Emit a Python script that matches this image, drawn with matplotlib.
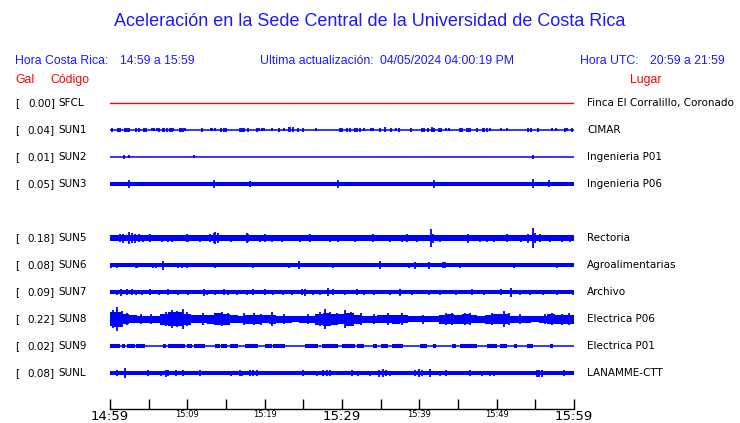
import matplotlib
matplotlib.use("Agg")
import matplotlib.pyplot as plt
import numpy as np

# stations, peak acceleration (gal) and place
stations = ["SFCL", "SUN1", "SUN2", "SUN3", "SUN5", "SUN6", "SUN7", "SUN8", "SUN9", "SUNL"]
peaks = [0.00, 0.04, 0.01, 0.05, 0.18, 0.08, 0.09, 0.22, 0.02, 0.08]
places = ["Finca El Corralillo, Coronado", "CIMAR", "Ingenieria P01", "Ingenieria P06",
          "Rectoria", "Agroalimentarias", "Archivo", "Electrica P06", "Electrica P01",
          "LANAMME-CTT"]

# x axis: minutes after 14:59
tick_min = list(range(0, 61, 5))
tick_lbl = ["14:59", "", "15:09", "", "15:19", "", "15:29", "", "15:39", "", "15:49", "", "15:59"]

# half-width of the quiet band of each trace (screen px)
base_half = [0.0, 0.6, 0.6, 2.2, 2.8, 1.8, 1.7, 0.0, 0.6, 1.8]

# spikes: (minute, half amplitude)
sun1 = [(0.2, 2), (1.0, 2), (1.3, 2), (1.9, 2), (2.1, 2), (2.3, 2), (2.5, 2), (3.3, 2), (3.7, 2),
        (4.4, 2), (4.6, 2), (5.4, 1.5), (5.7, 1.5), (6.1, 1.5), (6.3, 2), (6.8, 2), (7.0, 2),
        (7.4, 2), (7.7, 2), (8.0, 2), (8.2, 1.5), (9.0, 2), (9.2, 2), (9.4, 2), (9.7, 1.5),
        (11.9, 2), (13.0, 1.5), (13.2, 1.5), (13.6, 1.5), (14.4, 2), (14.8, 2), (15.0, 2),
        (16.8, 2), (17.1, 2), (17.3, 2), (17.8, 2), (19.0, 2), (19.3, 1.5), (19.6, 1.5),
        (19.9, 1.5), (20.9, 1.5), (21.9, 2), (22.5, 1.5), (23.1, 2.5), (23.3, 2.5), (23.6, 2.5),
        (24.3, 2), (25.0, 2), (26.7, 1.5), (29.8, 2), (30.0, 2), (30.7, 2), (31.0, 2), (31.7, 2),
        (32.0, 2), (32.3, 2), (32.8, 1.5), (33.7, 1.5), (34.0, 1.5), (34.9, 2), (35.6, 2.5),
        (36.3, 2), (37.0, 1.5), (37.4, 2), (38.9, 2), (40.3, 2), (40.6, 2), (41.1, 2), (41.6, 2.5),
        (41.9, 2), (42.5, 2), (42.8, 2), (43.4, 1.5), (43.9, 1.5), (45.2, 2), (45.5, 2), (46.2, 2),
        (46.4, 2), (46.6, 2), (47.4, 2), (48.2, 2), (48.4, 2), (48.8, 2), (49.1, 1.5), (50.5, 1.5),
        (51.3, 1.5), (54.0, 2), (54.4, 2), (55.3, 2), (57.1, 1.5), (57.7, 1.5), (58.8, 2),
        (59.1, 1.5), (59.8, 2)]
sun2 = [(1.85, 2), (2.46, 1.5), (10.9, 1.5), (54.7, 2)]
sun3 = [(2.46, 4), (13.5, 4), (18.1, 3), (29.5, 4), (41.9, 4), (54.7, 4.5), (56.8, 3.5)]
sun5 = [(1.3, 4), (1.7, 4.5), (2.4, 6.3), (2.8, 5), (3.2, 4.5), (3.7, 4), (4.3, 3.5), (5.2, 4),
        (6.7, 3.5), (7.5, 3.5), (8.0, 3.5), (9.9, 4), (10.1, 3.5), (11.6, 3.5), (12.9, 4),
        (13.4, 5), (13.6, 6), (14.0, 5), (15.7, 3.5), (17.7, 5), (17.9, 4), (19.4, 3.5), (20.0, 4),
        (20.9, 3.5), (22.2, 3.5), (24.6, 3.5), (25.9, 4), (27.4, 3), (28.4, 3.5), (29.5, 3.5),
        (31.7, 3.5), (34.0, 4), (35.3, 3), (36.2, 3.5), (37.7, 3.5), (38.4, 4), (39.7, 3.5),
        (41.5, 8.7), (41.8, 4.5), (42.7, 3.5), (43.7, 3), (46.3, 4.5), (47.8, 3.5), (48.7, 3.5),
        (49.6, 3.5), (51.3, 4), (53.2, 3.5), (54.1, 4.5), (54.7, 10), (55.0, 5), (55.6, 4),
        (56.9, 3.5), (58.4, 3.5), (59.5, 3.5)]
sun6 = [(0.1, 2.5), (0.9, 2.5), (3.4, 2.5), (3.5, 2.5), (5.6, 2.5), (6.0, 2.5), (6.9, 4.5),
        (8.8, 2.5), (9.3, 2.5), (9.9, 2.5), (13.6, 2.5), (18.5, 2.5), (23.1, 2.5), (24.4, 4),
        (28.9, 2.5), (34.9, 4), (38.6, 2.5), (39.4, 3.5), (41.2, 3.5), (43.1, 3), (43.3, 3),
        (45.3, 2.5), (49.4, 2), (52.2, 2.5), (57.8, 2.5)]
sun7 = [(0.9, 2.5), (1.4, 3.5), (2.2, 3), (2.8, 3), (3.4, 2.5), (4.1, 2.5), (5.2, 3), (6.3, 2.5),
        (7.5, 3), (8.8, 2.5), (10.1, 2.5), (12.1, 3.5), (12.5, 2.5), (13.6, 2.5), (14.7, 3),
        (15.3, 2.5), (16.4, 2.5), (17.7, 2.5), (18.5, 3), (20.0, 3), (21.1, 2.5), (22.4, 2.5),
        (23.5, 2.5), (24.8, 3), (25.2, 3.5), (26.3, 2.5), (27.2, 2.5), (28.2, 4), (28.9, 3),
        (30.4, 2.5), (31.9, 3), (32.8, 2.5), (34.1, 2.5), (36.2, 2.5), (37.5, 3.5), (39.0, 2.5),
        (41.2, 2.5), (42.7, 2.5), (44.8, 2.5), (46.8, 3), (48.3, 2.5), (50.6, 3), (51.8, 4.5),
        (53.0, 2.5), (54.3, 2.5), (56.0, 2.5), (57.8, 2.5), (59.9, 2.5)]
sun8 = [(0.4, 9), (0.95, 12), (1.5, 8), (2.2, 6), (4.0, 5), (5.3, 5), (7.3, 7), (8.0, 9),
        (8.6, 8), (9.4, 10), (10.0, 7), (12.0, 6), (13.8, 6), (14.5, 7), (15.2, 6), (17.3, 6),
        (18.6, 6), (19.5, 5.5), (20.9, 7), (22.5, 5), (25.6, 5), (27.2, 7), (27.8, 10), (28.5, 7),
        (29.3, 6), (30.4, 9), (31.1, 7), (32.4, 6), (34.2, 5), (36.0, 6), (37.7, 6), (40.5, 4.5),
        (43.5, 6), (44.2, 6), (45.9, 6), (46.5, 6), (49.4, 6), (50.9, 8), (51.6, 6), (53.0, 5),
        (56.3, 5), (57.1, 6), (58.4, 5.5), (59.3, 6)]
sun9 = []
sunl = [(0.9, 3), (2.0, 5), (4.9, 3), (6.6, 2.5), (7.3, 3.5), (7.5, 3), (8.5, 3), (9.4, 3),
        (11.6, 3), (15.6, 2.5), (16.8, 3), (17.1, 2.5), (18.1, 3), (18.5, 3), (19.0, 3), (25.0, 3),
        (26.8, 2.5), (27.6, 3), (28.0, 3), (28.4, 3), (31.3, 3), (32.1, 2.5), (33.6, 2.5),
        (34.8, 3.5), (35.3, 4), (35.7, 3), (36.2, 2.5), (39.4, 3), (40.0, 4), (40.4, 3), (41.4, 4),
        (42.7, 2.5), (43.4, 3), (46.5, 3), (48.1, 2.5), (49.1, 2.5), (49.7, 2.5), (51.6, 2),
        (55.2, 3.5), (55.5, 3.5), (55.8, 3.5), (58.7, 3)]
spikes = [[], sun1, sun2, sun3, sun5, sun6, sun7, sun8, sun9, sunl]

# SUN8 envelope, one value per minute (half amplitude)
sun8_env = [7, 7.5, 5, 4, 3.5, 3.5, 3.5, 5.5, 7, 7, 5.5, 4, 4, 4.5, 6, 5.5, 4, 3.5, 4.5, 4.5,
            4, 4.5, 3.5, 3.5, 3, 3.5, 3.5, 5.5, 6.5, 5.5, 5, 6.5, 4.5, 3.5, 3.5, 4, 4, 4.5, 4,
            3, 3, 3, 3, 4.5, 5, 4.5, 5, 4, 3.5, 4.5, 5, 5, 3.5, 3.5, 3.5, 3, 3.5, 5, 4.5, 4.5, 4.5]

# SUN9 noisy stretches (start, end minute)
sun9_blocks = [(0.0, 1.3), (1.5, 1.9), (2.2, 3.2), (3.4, 4.5), (6.9, 7.3), (7.5, 9.7),
               (9.9, 10.6), (10.8, 12.3), (13.6, 14.2), (14.4, 15.1), (15.5, 16.6), (17.5, 19.2),
               (20.0, 20.9), (21.1, 22.6), (25.2, 26.9), (27.4, 29.5), (30.0, 31.7), (31.9, 32.8),
               (34.0, 34.5), (35.1, 36.0), (36.5, 37.9), (40.1, 41.0), (41.8, 42.2), (44.2, 44.8),
               (45.3, 47.4), (48.7, 50.0), (50.4, 51.3), (52.2, 52.6), (53.9, 54.7), (56.9, 57.3)]

BLUE = "#0000ff"
TXT_BLUE = "#1a1aff"
RED = "#ff0000"

W, H = 740, 423
fig = plt.figure(figsize=(W / 100, H / 100), dpi=100)
ax = fig.add_axes([110 / W, 14 / H, 464 / W, 319 / H])
ax.set_xlim(0, 60)
ax.set_ylim(-409, -90)  # screen px, flipped

# rows: gap after SUN3
row_pos = [0, 1, 2, 3, 5, 6, 7, 8, 9, 10]
row_y = [-(103 + 27 * p) for p in row_pos]

for i, st in enumerate(stations):
    c = row_y[i]
    col = RED if st == "SFCL" else BLUE
    if st == "SUN8":
        t = np.arange(len(sun8_env))
        env = np.array(sun8_env)
        ax.fill_between(t, c - env, c + env, step="mid", color=col, lw=0)
    elif base_half[i] >= 1:
        ax.fill_between([0, 60], c - base_half[i], c + base_half[i], color=col, lw=0)
    else:
        ax.plot([0, 60], [c, c], color=col, lw=1.1 if st != "SFCL" else 1.0)
    if st == "SUN9":
        starts = [b[0] for b in sun9_blocks]
        widths = [b[1] - b[0] for b in sun9_blocks]
        ax.bar(starts, 3.4, width=widths, bottom=c - 1.7, align="edge", color=col, lw=0)
    if spikes[i]:
        ts = [s[0] for s in spikes[i]]
        amps = np.array([s[1] for s in spikes[i]])
        ax.vlines(ts, c - amps, c + amps, color=col, lw=1.3)

    yf = (H + c) / H
    fig.text(15 / W, yf, "[", fontsize=7.5, va="center", ha="left")
    fig.text(55 / W, yf, f"{peaks[i]:.2f}]", fontsize=7.5, va="center", ha="right")
    fig.text(58 / W, yf, st, fontsize=7.5, va="center", ha="left")
    fig.text(587 / W, yf, places[i], fontsize=7.5, va="center", ha="left")

# time axis
for s in ["left", "right", "top"]:
    ax.spines[s].set_visible(False)
ax.spines["bottom"].set_linewidth(1.0)
ax.set_yticks([])
ax.set_xticks(tick_min)
ax.set_xticklabels(tick_lbl)
ax.tick_params(axis="x", direction="in", length=7.5, width=1.0, pad=1)
for lab, m in zip(ax.get_xticklabels(), tick_min):
    lab.set_fontsize(9.5 if m % 30 == 0 else 6)

# header
hf = "Liberation Sans"
fig.text(370 / W, 1 - 22 / H, "Aceleración en la Sede Central de la Universidad de Costa Rica",
         ha="center", va="center", fontsize=13, color=TXT_BLUE, family=hf)
hdr = [(15, "Hora Costa Rica:"), (120, "14:59 a 15:59"), (260, "Ultima actualización:"),
       (380, "04/05/2024 04:00:19 PM"), (580, "Hora UTC:"), (650, "20:59 a 21:59")]
for x, s in hdr:
    fig.text(x / W, 1 - 61 / H, s, ha="left", va="center", fontsize=8.8, color=TXT_BLUE, family=hf)
for x, s in [(15, "Gal"), (50, "Código"), (630, "Lugar")]:
    fig.text(x / W, 1 - 80 / H, s, ha="left", va="center", fontsize=8.8, color=RED, family=hf)

fig.savefig("out.png", dpi=100)
